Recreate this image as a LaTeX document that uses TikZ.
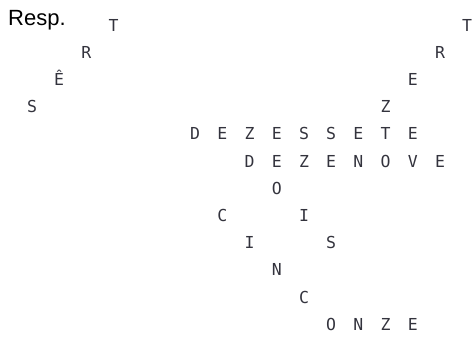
\documentclass[tikz,border=0pt]{standalone}
\usepackage{fontspec}
\setmainfont{Liberation Sans}
\newfontfamily\gridfont{DejaVu Sans Mono}
\usepackage{xcolor}
\definecolor{ink}{HTML}{33333D}

\begin{document}
\begin{tikzpicture}[
  letter/.style={
    font=\gridfont\fontsize{16.5}{16.5}\selectfont,
    text=ink,
    inner sep=0pt,
    text height=12pt,
    text depth=0pt
  },
  title/.style={
    font=\fontsize{22}{22}\selectfont,
    inner sep=0pt,
    anchor=base west
  }
]
  \useasboundingbox (0pt,0pt) rectangle (475pt,-338pt);
  \node[title] (resp) at (8pt,-25pt) {Resp.};
  \begin{scope}[shift={(32pt,-25pt)}, x=27.2pt, y=-27.2pt]
    % TRES, up to the right
    \foreach \ch [count=\i from 0] in {S,Ê,R,T}
      \node[letter] (tres\i) at (\i,3-\i) {\ch};
    % TREZE, down to the left (last E is in DEZESSETE)
    \foreach \ch [count=\i from 0] in {T,R,E,Z}
      \node[letter] (treze\i) at (16-\i,\i) {\ch};
    % DEZESSETE
    \foreach \ch [count=\i from 0] in {D,E,Z,E,S,S,E,T,E}
      \node[letter] (dezessete\i) at (6+\i,4) {\ch};
    % DEZENOVE
    \foreach \ch [count=\i from 0] in {D,E,Z,E,N,O,V,E}
      \node[letter] (dezenove\i) at (8+\i,5) {\ch};
    % DOIS (D is in DEZENOVE)
    \foreach \ch [count=\i from 1] in {O,I,S}
      \node[letter] (dois\i) at (8+\i,5+\i) {\ch};
    % CINCO
    \foreach \ch [count=\i from 0] in {C,I,N,C,O}
      \node[letter] (cinco\i) at (7+\i,7+\i) {\ch};
    % ONZE (O is in CINCO)
    \foreach \ch [count=\i from 1] in {N,Z,E}
      \node[letter] (onze\i) at (11+\i,11) {\ch};
  \end{scope}
\end{tikzpicture}
\end{document}
